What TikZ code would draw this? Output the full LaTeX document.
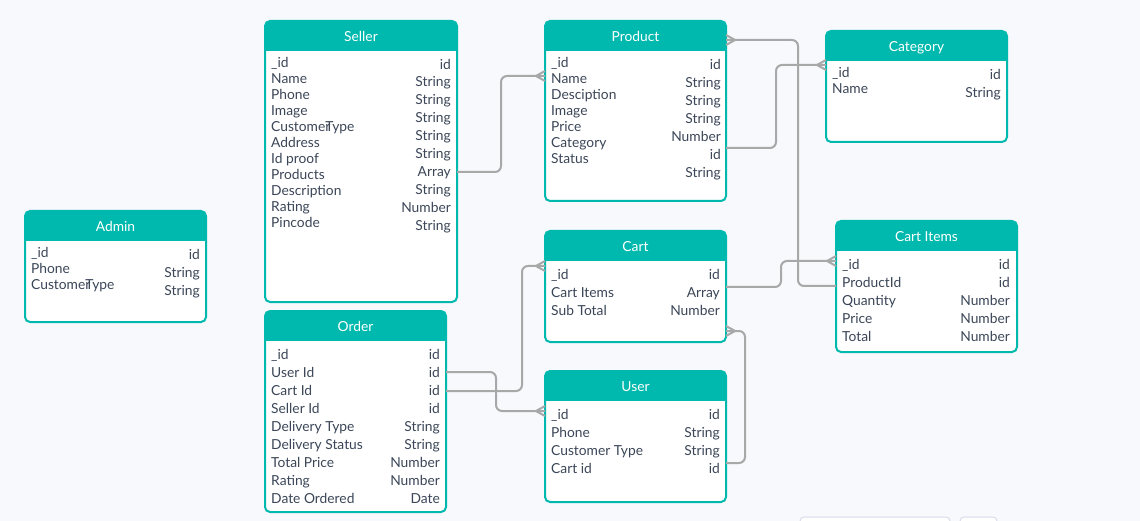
\documentclass[tikz,border=0pt]{standalone}
\usepackage{fontspec}
\setmainfont{Lato}
\usepackage{tikz}

\definecolor{hdr}{HTML}{00B9AE}
\definecolor{ink}{HTML}{3B4658}
\definecolor{wire}{HTML}{A8A8A8}
\definecolor{paper}{HTML}{F8F9FC}
\definecolor{widget}{HTML}{DADAEA}

\tikzset{
  tbl/.style={rectangle, fill=white, rounded corners=5pt, inner sep=0pt, outer sep=0pt, anchor=north west},
  ttl/.style={text=white, font=\fontsize{13.8}{16}\selectfont, inner sep=0pt, anchor=base},
  fld/.style={text=ink, font=\fontsize{13.8}{16}\selectfont, inner sep=0pt, anchor=mid west, yshift=-2.5pt},
  typ/.style={fld, anchor=mid east},
  conn/.style={draw=wire, line width=2pt, rounded corners=6pt},
}

% table: name, left, top, right, bottom, title
\newcommand{\entity}[6]{%
  \node[tbl, minimum width=#4-#2, minimum height=#5-#3] (#1) at (#2,#3) {};
  \begin{scope}
    \clip[rounded corners=5pt] (#1.north west) rectangle (#1.south east);
    \fill[hdr] (#1.north west) rectangle ([yshift=-30pt]#1.north east);
  \end{scope}
  \draw[hdr, line width=2pt, rounded corners=5pt] (#1.north west) rectangle (#1.south east);
  \node[ttl] (#1-ttl) at ([yshift=-20.5pt]#1.north) {#6};
}
% crow's foot at a box edge
\newcommand{\crowfoot}[2]{%
  \draw[conn, rounded corners=0pt] ([xshift=#2]#1) -- ([yshift=5pt]#1) ([xshift=#2]#1) -- ([yshift=-5pt]#1);
}

\begin{document}
\begin{tikzpicture}[x=1pt, y=-1pt]
        \fill[paper] (0,0) rectangle (1140,521);
        \useasboundingbox (0,0) rectangle (1140,521);

        % Seller
        \entity{seller}{265}{21}{457}{302}{Seller}
        \foreach \f [count=\i from 0] in {\_id,Name,Phone,Image,Custome\rlap{r}Type,Address,Id proof,Products,Description,Rating,Pincode}
            \node[fld] (seller-f\i) at (271,62+16*\i) {\f};
        \foreach \t [count=\i from 0] in {id,String,String,String,String,String,Array,String,Number,String}
            \node[typ] (seller-t\i) at (451,64+17.9*\i) {\t};

        % Product
        \entity{product}{545}{21}{726}{201}{Product}
        \foreach \f [count=\i from 0] in {\_id,Name,Desciption,Image,Price,Category,Status}
            \node[fld] (product-f\i) at (551,62+16*\i) {\f};
        \foreach \t [count=\i from 0] in {id,String,String,String,Number,id,String}
            \node[typ] (product-t\i) at (721,64+18*\i) {\t};

        % Category
        \entity{category}{826}{31}{1007}{142}{Category}
        \foreach \f [count=\i from 0] in {\_id,Name}
            \node[fld] (category-f\i) at (832,72+16*\i) {\f};
        \foreach \t [count=\i from 0] in {id,String}
            \node[typ] (category-t\i) at (1001,74+18*\i) {\t};

        % Admin
        \entity{admin}{25}{211}{206}{322}{Admin}
        \foreach \f [count=\i from 0] in {\_id,Phone,Custome\rlap{r}Type}
            \node[fld] (admin-f\i) at (31,252+16*\i) {\f};
        \foreach \t [count=\i from 0] in {id,String,String}
            \node[typ] (admin-t\i) at (200,254+18*\i) {\t};

        % Order
        \entity{order}{265}{311}{446}{512}{Order}
        \foreach \f/\t [count=\i from 0] in {\_id/id,User Id/id,Cart Id/id,Seller Id/id,Delivery Type/String,Delivery Status/String,Total Price/Number,Rating/Number,Date Ordered/Date}{
            \node[fld] (order-f\i) at (271,354.5+18*\i) {\f};
            \node[typ] (order-t\i) at (440,354.5+18*\i) {\t};
        }

        % Cart
        \entity{cart}{545}{231}{726}{342}{Cart}
        \foreach \f/\t [count=\i from 0] in {\_id/id,Cart Items/Array,Sub Total/Number}{
            \node[fld] (cart-f\i) at (551,274+18*\i) {\f};
            \node[typ] (cart-t\i) at (720,274+18*\i) {\t};
        }

        % User
        \entity{user}{545}{371}{726}{502}{User}
        \foreach \f/\t [count=\i from 0] in {\_id/id,Phone/String,Customer Type/String,Cart id/id}{
            \node[fld] (user-f\i) at (551,414+18*\i) {\f};
            \node[typ] (user-t\i) at (720,414+18*\i) {\t};
        }

        % Cart Items
        \entity{items}{836}{221}{1017}{352}{Cart Items}
        \foreach \f/\t [count=\i from 0] in {\_id/id,ProductId/id,Quantity/Number,Price/Number,Total/Number}{
            \node[fld] (items-f\i) at (842,264+18*\i) {\f};
            \node[typ] (items-t\i) at (1010,264+18*\i) {\t};
        }

        % Link ends
        \coordinate (s-prod) at ([yshift=-151pt]seller.north east);
        \coordinate (p-name) at ([yshift=-55pt]product.north west);
        \coordinate (p-hdr) at ([yshift=-19pt]product.north east);
        \coordinate (p-cat) at ([yshift=-127pt]product.north east);
        \coordinate (cat-id) at ([yshift=-34pt]category.north west);
        \coordinate (o-user) at ([yshift=-61pt]order.north east);
        \coordinate (o-cart) at ([yshift=-80pt]order.north east);
        \coordinate (cart-id) at ([yshift=-35pt]cart.north west);
        \coordinate (cart-arr) at ([yshift=-56pt]cart.north east);
        \coordinate (cart-foot) at ([yshift=-100pt]cart.north east);
        \coordinate (user-id) at ([yshift=-40pt]user.north west);
        \coordinate (user-cart) at ([yshift=-92pt]user.north east);
        \coordinate (ci-id) at ([yshift=-40pt]items.north west);
        \coordinate (ci-pid) at ([yshift=-65pt]items.north west);

        % Links
        \draw[conn] (s-prod) -| ([xshift=-44pt]p-name) -- (p-name);
        \draw[conn] (p-hdr) -| ([xshift=-38pt]ci-pid) -- (ci-pid);
        \draw[conn] (p-cat) -| ([xshift=-50pt]cat-id) -- (cat-id);
        \draw[conn] (o-user) -| ([xshift=-49pt]user-id) -- (user-id);
        \draw[conn] (o-cart) -| ([xshift=-23pt]cart-id) -- (cart-id);
        \draw[conn] (cart-arr) -| ([xshift=-55pt]ci-id) -- (ci-id);
        \draw[conn] (user-cart) -| ([xshift=19pt]cart-foot) -- (cart-foot);
        \crowfoot{p-name}{-9pt}
        \crowfoot{p-hdr}{9pt}
        \crowfoot{cat-id}{-9pt}
        \crowfoot{user-id}{-9pt}
        \crowfoot{cart-id}{-9pt}
        \crowfoot{ci-id}{-9pt}
        \crowfoot{cart-foot}{9pt}

        % toolbar edge
        \draw[widget, fill=white, line width=1pt, rounded corners=4pt] (800,517) rectangle (950,535);
        \draw[widget, fill=white, line width=1pt, rounded corners=4pt] (960,517) rectangle (997,535);
\end{tikzpicture}
\end{document}
